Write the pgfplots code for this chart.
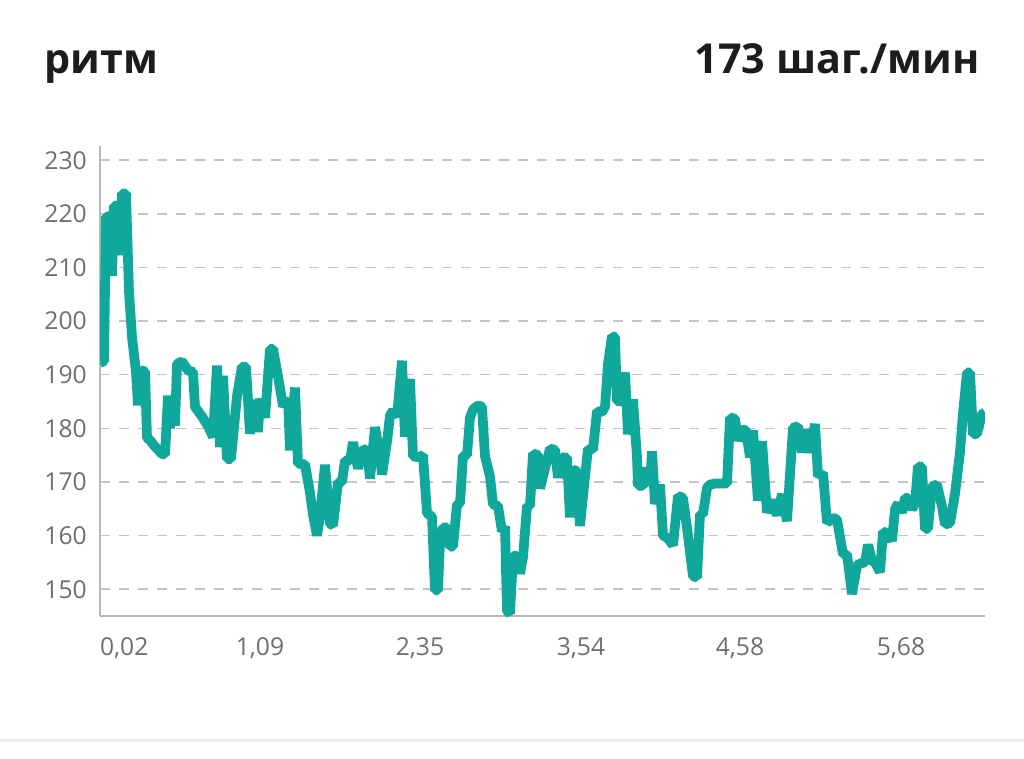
\documentclass[border=0pt]{standalone}
\usepackage{fontspec}
\setmainfont{Open Sans}
\usepackage{pgfplots}
\usepackage{pgfplotstable}
\pgfplotsset{compat=1.18}
\definecolor{lineteal}{HTML}{0FA89B}
\definecolor{gridcol}{HTML}{C4C4C4}
\definecolor{axiscol}{HTML}{B8B8B8}
\definecolor{ticklab}{HTML}{6E6E73}
\definecolor{titlecol}{HTML}{1C1C1C}
\definecolor{sepcol}{HTML}{F0F1F3}
\pgfplotstableread{
x y
0 192.2
4 192.5
6 219.5
10 219.5
12 208.4
14 221.5
18 221.5
20 212.3
22 223.8
26 223.8
29 205.5
32 197
36 190.6
38 184.3
41 190.8
45 190.6
47 178.2
50 177.8
54 176.8
58 176
62 175.2
65 175.1
68 186.1
70 180
72 186.1
75 180.5
77 192
82 192.5
88 190.8
93 190.5
95 184
102 182.2
108 180.4
113 178.4
117 191.7
120 176.5
123 189.8
127 174.3
131 174.3
137 186
142 191.5
146 191.5
150 179
155 185.3
158 179.3
160 185.5
165 182
170 194.8
173 194.8
178 189.7
183 184.1
188 185.5
190 175.9
195 187.6
198 173.4
205 173.3
210 168
213 163.9
217 160
220 163.6
225 173.2
230 162.2
233 161.9
238 169.9
242 170
245 174
250 174
253 177.4
258 172.5
262 175.8
267 176.2
270 170.6
275 180.2
280 175
282 171.4
287 177.5
290 182.4
293 183.3
297 182.2
302 192.6
305 178.4
310 189.2
313 174.8
318 174.6
323 175
327 164.2
332 163.5
335 149.8
338 149.8
340 158.6
343 161.5
347 161.5
350 157.9
353 158
357 165.8
360 166
363 174.9
367 175
370 182
373 183.5
378 184.3
382 184
385 174.8
390 171
393 165.8
398 165.5
402 160.8
405 161.7
407 145.9
410 145.5
413 156.2
417 156.2
420 152.9
423 156
427 165.5
430 165.5
433 175.3
438 175
440 168.8
450 176.2
455 176
458 170.8
462 174.6
467 174.5
470 163.4
473 172.3
477 172
480 161.8
485 171
488 176.2
493 176
497 183.2
502 183
505 184
508 192
512 197.2
515 197
517 185.1
522 185
525 190.4
528 178.9
533 185.4
537 174.6
538 169.3
543 169.3
547 172.6
550 169.3
552 175.7
555 165.9
560 169.5
563 160
568 159.5
573 158.2
578 167.4
583 167
588 160
593 152.4
597 152.2
600 164
603 164
607 168.9
610 169.5
615 169.7
627 169.7
630 182
635 181.8
638 177.7
642 179.8
646 179.6
650 174.6
653 179.6
658 166.5
662 177.6
667 164.3
672 166.6
677 163.8
682 167.7
687 162.7
693 180.1
698 180.4
702 175.5
705 179.7
710 175.5
715 180.8
718 171.1
723 171.7
727 162.4
733 163.3
737 163
743 156.5
747 156.5
752 149.1
757 154.5
762 154.9
765 155
768 158.3
772 155.3
775 155
780 153.2
783 160.7
788 160.5
792 159
795 164.9
798 166
802 164.3
805 167
808 167
812 164.9
815 166
818 172.9
822 172.8
825 161.2
828 161.3
832 169.2
837 169.5
842 165.4
845 162.1
850 162.3
855 167.8
860 175.6
863 182.8
867 190.4
870 190.4
873 178.9
877 179
882 182.6
885 183
}\cadence
\begin{document}
\begin{tikzpicture}
\path[use as bounding box] (0,0) rectangle (768pt,-569.25pt);
\fill[sepcol] (0,-554.25pt) rectangle (768pt,-556.5pt);
\node[anchor=base west, inner sep=0pt, text=titlecol, font=\fontsize{31}{37}\selectfont\bfseries] at (33pt,-55.5pt) {ритм};
\node[anchor=base east, inner sep=0pt, text=titlecol, font=\fontsize{31}{37}\selectfont\bfseries] at (735pt,-55.5pt) {173 шаг./мин};
\begin{axis}[
  at={(75pt,-462pt)}, anchor=south west,
  scale only axis, width=663.75pt, height=352.5pt,
  xmin=0, xmax=885, ymin=145, ymax=232.65,
  axis lines*=left,
  axis line style={-, draw=axiscol, line width=1.3pt},
  major tick length=0pt,
  ytick={150,160,...,230},
  xtick={0,160,320,481,640,801},
  xticklabels={{\makebox[0pt][l]{0,02}},{1,09},{2,35},{3,54},{4,58},{5,68}},
  ymajorgrids=true,
  major grid style={draw=gridcol, line width=1.1pt, dash pattern=on 7.5pt off 6.75pt},
  /pgf/number format/assume math mode=true,
  tick label style={font=\fontsize{18.5}{22}\selectfont, text=ticklab},
  yticklabel style={anchor=east, inner sep=0pt, xshift=-9.75pt},
  xticklabel style={anchor=north, inner sep=0pt, yshift=-15.75pt},
]
\addplot[lineteal, line width=7.3pt, line join=bevel, no markers] table[x=x,y=y] {\cadence};
\end{axis}
\end{tikzpicture}
\end{document}
